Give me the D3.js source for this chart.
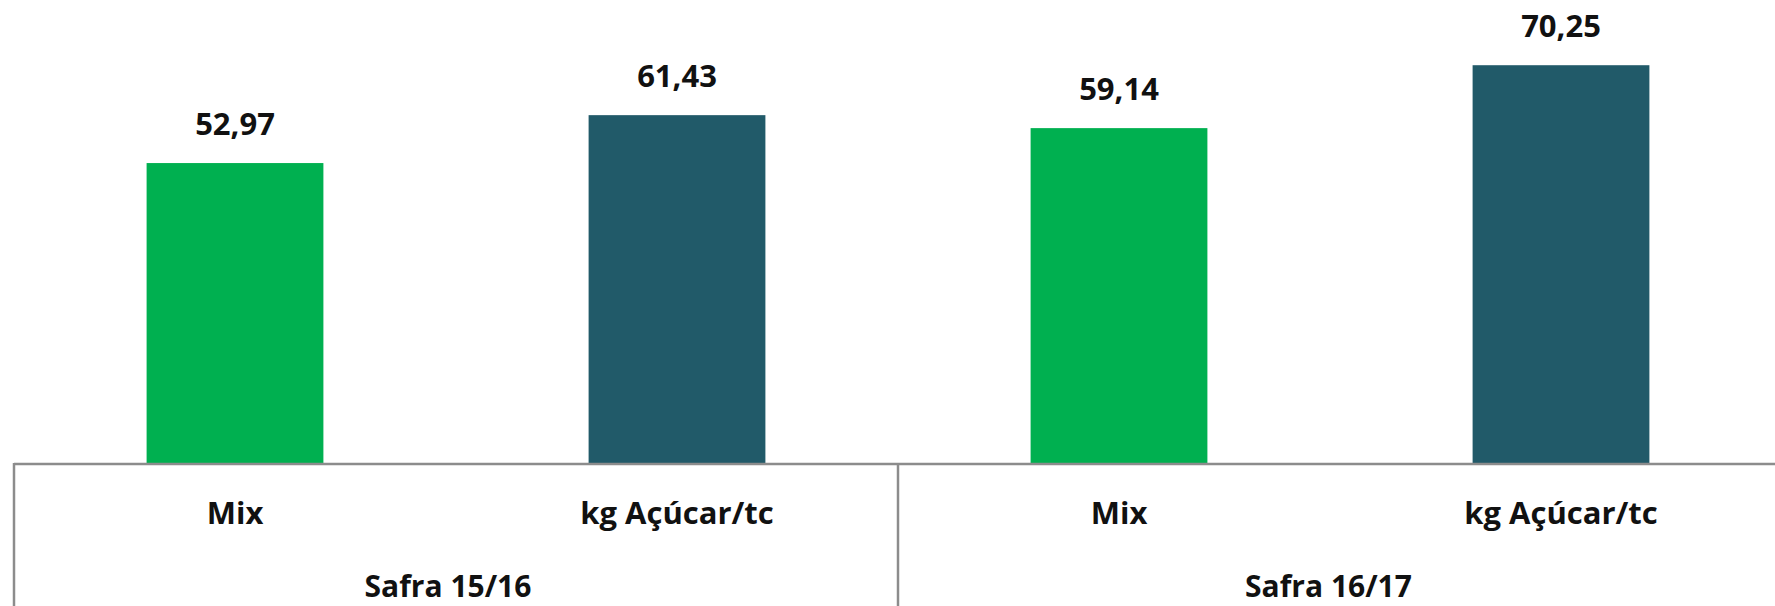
<!DOCTYPE html>
<html>
<head>
<meta charset="utf-8">
<style>
  body { margin: 0; background: #fff; }
  text { font-family: "Open Sans", sans-serif; font-weight: bold; fill: #111; }
</style>
</head>
<body>
<script src="https://cdn.jsdelivr.net/npm/d3@7"></script>
<script>
// data
var groups = ["Safra 15/16", "Safra 16/17"];
var categories = ["Mix", "kg Açúcar/tc"];
var values = [52.97, 61.43, 59.14, 70.25];
var colors = ["#00B050", "#215A69"];

var W = 1775, H = 606;
var svg = d3.select("body").append("svg")
  .attr("width", W).attr("height", H);

var rows = [];
groups.forEach(function(g, gi) {
  categories.forEach(function(c, ci) {
    rows.push({ key: gi + "-" + ci, group: g, cat: c, ci: ci, value: values[gi * categories.length + ci] });
  });
});

var x = d3.scaleBand()
  .domain(rows.map(function(d) { return d.key; }))
  .range([14, 1782])
  .paddingInner(0.6).paddingOuter(0.3);

var y = d3.scaleLinear().domain([0, 80]).range([463, 10]);

var fmt = function(v) { return d3.format(".2f")(v).replace(".", ","); };

// bars
svg.selectAll("rect.bar").data(rows).enter().append("rect")
  .attr("class", "bar")
  .attr("x", function(d) { return x(d.key); })
  .attr("y", function(d) { return y(d.value); })
  .attr("width", x.bandwidth())
  .attr("height", function(d) { return y(0) - y(d.value); })
  .attr("fill", function(d) { return colors[d.ci]; });

// value labels
svg.selectAll("text.val").data(rows).enter().append("text")
  .attr("class", "val")
  .attr("x", function(d) { return x(d.key) + x.bandwidth() / 2; })
  .attr("y", function(d) { return y(d.value) - 28; })
  .attr("text-anchor", "middle")
  .style("font-size", "31px")
  .text(function(d) { return fmt(d.value); });

// axis line and group separators
var line = "#8c8c8c";
svg.append("line")
  .attr("x1", x.range()[0]).attr("x2", W)
  .attr("y1", y(0) + 1).attr("y2", y(0) + 1)
  .attr("stroke", line).attr("stroke-width", 2.5);

var step = x.step();
var gStart = function(gi) { return x.range()[0] + gi * categories.length * step; };
[0, 1].forEach(function(gi) {
  svg.append("line")
    .attr("x1", gStart(gi)).attr("x2", gStart(gi))
    .attr("y1", y(0)).attr("y2", H)
    .attr("stroke", line).attr("stroke-width", 2.5);
});

// category labels
svg.selectAll("text.cat").data(rows).enter().append("text")
  .attr("class", "cat")
  .attr("x", function(d) { return x(d.key) + x.bandwidth() / 2; })
  .attr("y", 524)
  .attr("text-anchor", "middle")
  .style("font-size", "31px")
  .text(function(d) { return d.cat; });

// group labels
svg.selectAll("text.grp").data(groups).enter().append("text")
  .attr("class", "grp")
  .attr("x", function(d, i) { return (gStart(i) + Math.min(gStart(i + 1), W)) / 2 - 8; })
  .attr("y", 597)
  .attr("text-anchor", "middle")
  .style("font-size", "30px")
  .text(function(d) { return d; });
</script>
</body>
</html>
